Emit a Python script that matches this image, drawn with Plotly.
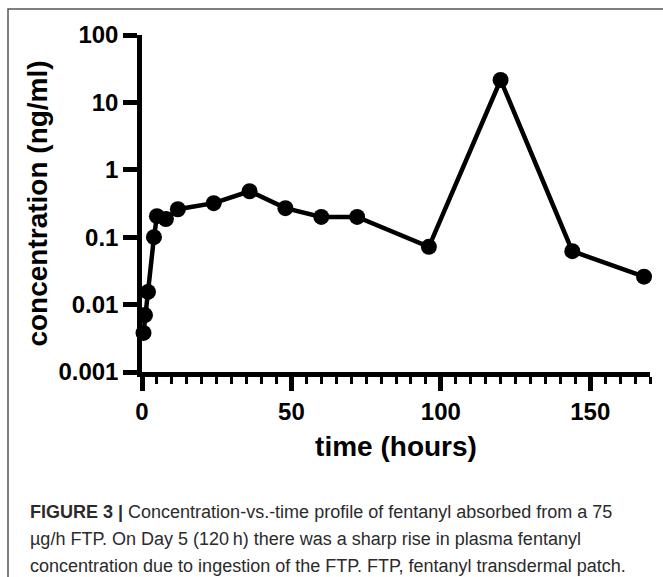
import plotly.graph_objects as go

# Data
time_h = [0.5, 1, 2, 4, 5, 8, 12, 24, 36, 48, 60, 72, 96, 120, 144, 168]
conc_ng_ml = [0.0038, 0.0070, 0.0154, 0.100, 0.205, 0.186, 0.26, 0.32, 0.48,
              0.27, 0.20, 0.20, 0.072, 21.5, 0.062, 0.026]

y_tickvals = [0.001, 0.01, 0.1, 1, 10, 100]
y_ticktext = ["0.001", "0.01", "0.1", "1", "10", "100"]
x_tickvals = [0, 50, 100, 150]

caption_lines = [
    "<b>FIGURE 3 |</b> Concentration-vs.-time profile of fentanyl absorbed from a 75",
    "\u00b5g/h FTP. On Day 5 (120\u2009h) there was a sharp rise in plasma fentanyl",
    "concentration due to ingestion of the FTP. FTP, fentanyl transdermal patch.",
]

W, H = 663, 577
L, R, T, B = 142, 13, 35, 205
pw, ph = W - L - R, H - T - B

def px_x(px):
    return (px - L) / pw

def px_y(py):
    return (H - B - py) / ph

axis_font = dict(family="Liberation Sans, Arial, sans-serif", size=24, color="black", weight="bold")
title_font = dict(family="Liberation Sans, Arial, sans-serif", size=28, color="black", weight="bold")

fig = go.Figure()
fig.add_trace(go.Scatter(
    x=time_h, y=conc_ng_ml, mode="lines+markers",
    line=dict(color="black", width=4.5),
    marker=dict(color="black", size=16, symbol="circle"),
    cliponaxis=False, showlegend=False,
))

fig.update_layout(
    width=W, height=H,
    margin=dict(l=L, r=R, t=T, b=B, autoexpand=False),
    plot_bgcolor="white", paper_bgcolor="white",
    xaxis=dict(
        range=[0, 170], tickvals=x_tickvals, ticks="outside", ticklen=14, tickwidth=4.5,
        tickcolor="black", showline=True, linewidth=4.5, linecolor="black",
        showgrid=False, zeroline=False, tickfont=axis_font,
        minor=dict(dtick=5, tick0=0, ticks="outside", ticklen=7, tickwidth=3, tickcolor="black", showgrid=False),
        title=dict(text="time (hours)", font=title_font, standoff=14),
        automargin=False,
    ),
    yaxis=dict(
        type="log", range=[-3, 2], tickvals=y_tickvals, ticktext=y_ticktext,
        ticks="outside", ticklen=14, tickwidth=4.5, tickcolor="black",
        showline=True, linewidth=4.5, linecolor="black", showgrid=False, zeroline=False,
        tickfont=axis_font,
        title=dict(text="concentration (ng/ml)", font=title_font, standoff=4),
        automargin=False,
    ),
)

# figure frame
fig.add_shape(type="rect", xref="paper", yref="paper",
              x0=px_x(8), x1=px_x(700), y0=px_y(650), y1=px_y(9),
              line=dict(color="#555555", width=1.5), fillcolor="rgba(0,0,0,0)", layer="below")

cap_font = dict(family="Liberation Sans, Arial, sans-serif", size=18, color="#2b2b2b")
for line, cy in zip(caption_lines, [512, 539, 566]):
    fig.add_annotation(text=line, xref="paper", yref="paper", x=px_x(28), y=px_y(cy),
                       xanchor="left", yanchor="middle", showarrow=False, font=cap_font)

fig.write_html("out.html", config={"displayModeBar": False},
               post_script="document.body.style.margin='0';")
